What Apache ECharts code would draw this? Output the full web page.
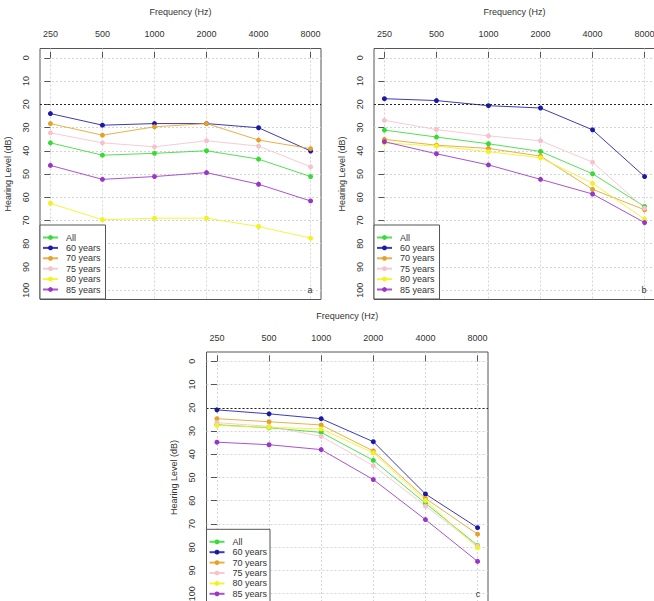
<!DOCTYPE html>
<html><head><meta charset="utf-8">
<script src="https://cdn.jsdelivr.net/npm/echarts@6/dist/echarts.min.js"></script>
<style>html,body{margin:0;padding:0;background:#fff}#c{width:654px;height:601px}</style>
</head><body><div id="c"></div>
<script>
// ---- data ----
const frequencies = ['250', '500', '1000', '2000', '4000', '8000'];
const groups = ['All', '60 years', '70 years', '75 years', '80 years', '85 years'];
const yTicks = [0, 10, 20, 30, 40, 50, 60, 70, 80, 90, 100];
const refLevel = 20;
const panelLabels = ['a', 'b', 'c'];

const a_All = [36.6, 41.9, 41.1, 40.0, 43.6, 51.1];
const a_60  = [24.0, 29.0, 28.3, 28.3, 30.1, 40.1];
const a_70  = [28.3, 33.3, 29.7, 28.3, 35.4, 39.1];
const a_75  = [32.3, 36.6, 38.3, 35.7, 38.0, 46.9];
const a_80  = [62.6, 69.7, 69.0, 69.0, 72.6, 77.6];
const a_85  = [46.3, 52.3, 51.1, 49.4, 54.4, 61.6];

const b_All = [31.1, 34.1, 37.0, 40.3, 49.9, 64.0];
const b_60  = [17.6, 18.4, 20.6, 21.6, 31.0, 51.1];
const b_70  = [35.1, 37.6, 39.0, 42.3, 56.6, 65.4];
const b_75  = [26.9, 30.9, 33.6, 35.7, 44.9, 64.7];
const b_80  = [36.6, 38.0, 40.4, 43.0, 54.0, 69.4];
const b_85  = [36.1, 41.3, 46.1, 52.3, 58.6, 70.9];

const c_All = [27.3, 28.6, 30.6, 42.6, 61.1, 79.2];
const c_60  = [20.9, 22.6, 24.7, 34.6, 57.1, 71.6];
const c_70  = [24.7, 26.0, 27.4, 38.6, 59.0, 74.4];
const c_75  = [26.4, 28.0, 32.3, 44.9, 62.3, 79.4];
const c_80  = [27.6, 28.4, 29.1, 39.4, 59.9, 80.3];
const c_85  = [34.8, 35.9, 38.0, 50.9, 68.1, 86.1];

// ---- styling / layout ----
const colors = ['#33dd33', '#1a1aa8', '#e6a228', '#f6c2cc', '#f2f21e', '#9a35c8'];
const FONT = 'Liberation Sans, Arial, sans-serif';
const TXT = '#333';
const BOX = '#555';
const panels = [
  {series: [a_All, a_60, a_70, a_75, a_80, a_85], left: 40, top: 48.5, width: 281, height: 251, legendTop: 225, legendBorder: true, tag: [310, 290]},
  {series: [b_All, b_60, b_70, b_75, b_80, b_85], left: 374, top: 48.5, width: 281, height: 251, legendTop: 225, legendBorder: true, tag: [644, 290]},
  {series: [c_All, c_60, c_70, c_75, c_80, c_85], left: 206.5, top: 352, width: 281.5, height: 251, legendTop: 529.3, legendBorder: false, tag: [478, 594]}
];
const xIdx = frequencies.map((f, i) => i);

const grid = [], xAxis = [], yAxis = [], series = [], legend = [], graphic = [];
panels.forEach((p, k) => {
  grid.push({left: p.left, top: p.top, width: p.width, height: p.height, show: true,
    borderColor: BOX, borderWidth: 1, backgroundColor: 'transparent',
    containLabel: false, outerBoundsMode: 'none'});
  xAxis.push({gridIndex: k, type: 'value', position: 'top', min: -0.2, max: 5.2,
    axisLine: {show: false},
    axisTick: {show: true, customValues: xIdx, length: 6, lineStyle: {color: BOX}},
    axisLabel: {customValues: xIdx, formatter: v => frequencies[Math.round(v)], fontSize: 9, color: TXT, fontFamily: FONT, margin: 10},
    splitLine: {show: true, lineStyle: {type: [2, 2], color: '#d4d4d4', width: 1}},
    name: 'Frequency (Hz)', nameLocation: 'middle', nameGap: 32,
    nameTextStyle: {fontSize: 9, color: TXT, fontFamily: FONT}});
  yAxis.push({gridIndex: k, type: 'value', inverse: true, min: -4, max: 104,
    axisLine: {show: false},
    axisTick: {show: true, customValues: yTicks, length: 6, lineStyle: {color: BOX}},
    axisLabel: {customValues: yTicks, rotate: 90, fontSize: 9, color: TXT, fontFamily: FONT, margin: 10},
    splitLine: {show: true, lineStyle: {type: [2, 2], color: '#d4d4d4', width: 1}},
    name: 'Hearing Level (dB)', nameLocation: 'middle', nameGap: 28, nameRotate: 90,
    nameTextStyle: {fontSize: 9, color: TXT, fontFamily: FONT}});
  p.series.forEach((vals, j) => {
    const s = {
      name: groups[j], type: 'line', xAxisIndex: k, yAxisIndex: k,
      data: vals.map((v, i) => [xIdx[i], v]),
      symbol: 'circle', symbolSize: 5, showSymbol: true,
      itemStyle: {color: colors[j]},
      lineStyle: {color: colors[j], width: 1, opacity: 0.85},
      z: 3, animation: false
    };
    if (j === 0) {
      s.markLine = {silent: true, symbol: 'none', animation: false, label: {show: false},
        lineStyle: {type: [2, 2], color: '#222', width: 1},
        data: [{yAxis: refLevel}]};
    }
    series.push(s);
  });
  legend.push({orient: 'vertical', left: p.left, top: p.legendTop, data: groups,
    itemWidth: 15, itemHeight: 6, itemGap: 1.4,
    padding: p.legendBorder ? [8, 5, 5, 2] : [8, 5, 0, 2],
    borderColor: BOX, borderWidth: p.legendBorder ? 1 : 0,
    backgroundColor: p.legendBorder ? '#fff' : 'transparent', borderRadius: 0,
    selectedMode: false, z: 10,
    textStyle: {fontSize: 9, lineHeight: 9, color: TXT, fontFamily: FONT, padding: [0, 0, 0, 3]}});
  if (!p.legendBorder) {
    graphic.push({type: 'rect', z: 9, shape: {x: p.left, y: p.legendTop, width: 63.5, height: 90},
      style: {fill: '#fff', stroke: BOX, lineWidth: 1}});
  }
  graphic.push({type: 'text', x: p.tag[0], y: p.tag[1], z: 20,
    style: {text: panelLabels[k], fontSize: 9, fill: TXT, font: '9px ' + FONT, textAlign: 'center', textVerticalAlign: 'middle'}});
});

const chart = echarts.init(document.getElementById('c'), null, {renderer: 'svg'});
chart.setOption({animation: false, backgroundColor: '#fff', textStyle: {fontFamily: FONT},
  grid, xAxis, yAxis, series, legend, graphic});
</script></body></html>
